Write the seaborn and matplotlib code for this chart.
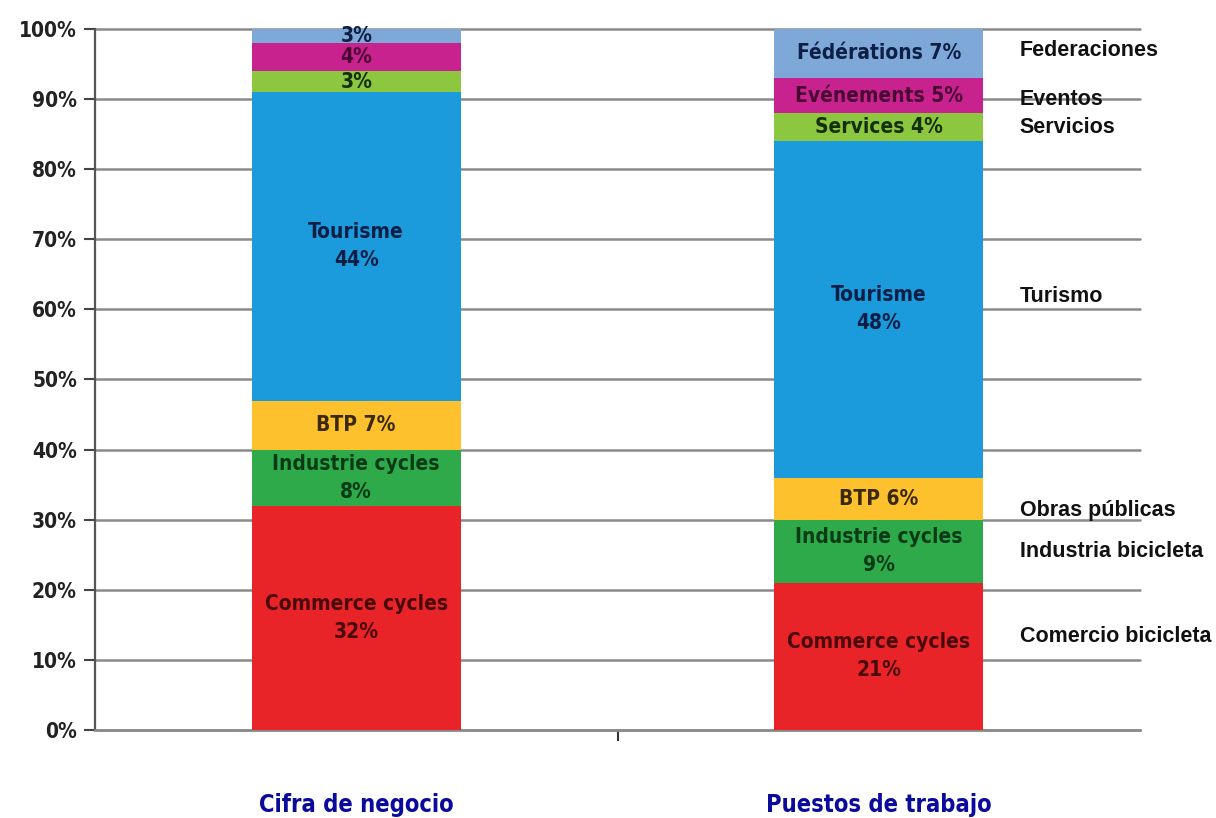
import matplotlib
matplotlib.use("Agg")
import matplotlib.pyplot as plt
import matplotlib.transforms as mtransforms
import numpy as np
import pandas as pd
import seaborn as sns

# --- data -------------------------------------------------------------
categories = ["Cifra de negocio", "Puestos de trabajo"]
segments = ["Commerce cycles", "Industrie cycles", "BTP", "Tourisme",
            "Services", "Evénements", "Fédérations"]
cifra_negocio = [32, 8, 7, 44, 3, 4, 3]
puestos_trabajo = [21, 9, 6, 48, 4, 5, 7]

cifra_text = ["Commerce cycles\n32%", "Industrie cycles\n8%", "BTP 7%",
              "Tourisme\n44%", "3%", "4%", "3%"]
puestos_text = ["Commerce cycles\n21%", "Industrie cycles\n9%", "BTP 6%",
                "Tourisme\n48%", "Services 4%", "Evénements 5%",
                "Fédérations 7%"]

spanish_names = ["Comercio bicicleta", "Industria bicicleta", "Obras públicas",
                 "Turismo", "Servicios", "Eventos", "Federaciones"]
spanish_y = [13.4, 25.4, 31.3, 61.8, 85.9, 89.9, 96.9]

yticks = [0, 10, 20, 30, 40, 50, 60, 70, 80, 90, 100]
ytick_labels = [f"{v}%" for v in yticks]

# --- styling ----------------------------------------------------------
fill_colors = ["#E92428", "#2EAA4A", "#FDC12E", "#1C9BDC",
               "#8DC63F", "#C8228E", "#7DA8D8"]
text_colors = ["#4A0A0C", "#0B3A17", "#3A2806", "#0B1E45",
               "#13300A", "#4A0633", "#0D1F45"]

sns.set_theme(style="white")
plt.rcParams["font.family"] = ["Liberation Sans", "DejaVu Sans"]
cond = ["DejaVu Sans"]

fig = plt.figure(figsize=(12.16, 8.18), dpi=100)
ax = fig.add_axes([95 / 1216, 0.1076, 1045 / 1216, 0.857])

df = pd.DataFrame({"category": np.repeat(categories, len(segments)),
                   "segment": segments * 2,
                   "value": cifra_negocio + puestos_trabajo})
df["top"] = df.groupby("category")["value"].cumsum()

# stacked bars: draw cumulative totals from the tallest layer downwards
for i in reversed(range(len(segments))):
    layer = df[df["segment"] == segments[i]]
    sns.barplot(data=layer, x="category", y="top", order=categories,
                color=fill_colors[i], saturation=1, width=0.4,
                edgecolor="none", linewidth=0, ax=ax, zorder=3)

ax.set_ylim(0, 100)
ax.set_xlim(-0.5, 1.5)

# labels inside the segments
for xi, (vals, texts) in enumerate([(cifra_negocio, cifra_text),
                                    (puestos_trabajo, puestos_text)]):
    tops = np.cumsum(vals)
    bottoms = tops - np.array(vals)
    for i, (b, t, s) in enumerate(zip(bottoms, tops, texts)):
        mid = (b + min(t, 100)) / 2
        ax.text(xi, mid, s, ha="center", va="center", fontsize=15,
                fontweight="bold", family=cond, fontstretch="condensed",
                color=text_colors[i], linespacing=1.5, zorder=5)

# Spanish names on the right
for name, y in zip(spanish_names, spanish_y):
    ax.text(1.27, y, name, ha="left", va="center", fontsize=15.5,
            fontweight="bold", color="#111111", zorder=6)

# category captions below the axis
trans = mtransforms.blended_transform_factory(ax.transData, ax.transAxes)
for xi, cat in enumerate(categories):
    ax.text(xi, -0.107, cat, transform=trans, ha="center", va="center",
            fontsize=17, fontweight="bold", family=cond,
            fontstretch="condensed", color="#0A0A9C")

# axes, grid, ticks
ax.set_yticks(yticks)
ax.set_yticklabels(ytick_labels, fontsize=15, fontweight="bold",
                   color="#222222", family=cond, fontstretch="condensed")
ax.set_xticks([0.5])
ax.set_xticklabels([""])
ax.set_xlabel("")
ax.set_ylabel("")
ax.yaxis.grid(True, color="#8A8A8A", linewidth=1.8, zorder=0)
ax.set_axisbelow(True)
for gl in ax.get_ygridlines():
    gl.set_clip_on(False)
ax.tick_params(axis="y", direction="out", length=8, width=1.5,
               color="#444444", pad=5, left=True)
ax.tick_params(axis="x", direction="out", length=8, width=1.5,
               color="#333333", bottom=True)
for side in ("top", "right"):
    ax.spines[side].set_visible(False)
ax.spines["left"].set_color("#555555")
ax.spines["left"].set_linewidth(1.6)
ax.spines["bottom"].set_color("#8A8A8A")
ax.spines["bottom"].set_linewidth(1.8)

fig.savefig("out.png", dpi=100, facecolor="white")
